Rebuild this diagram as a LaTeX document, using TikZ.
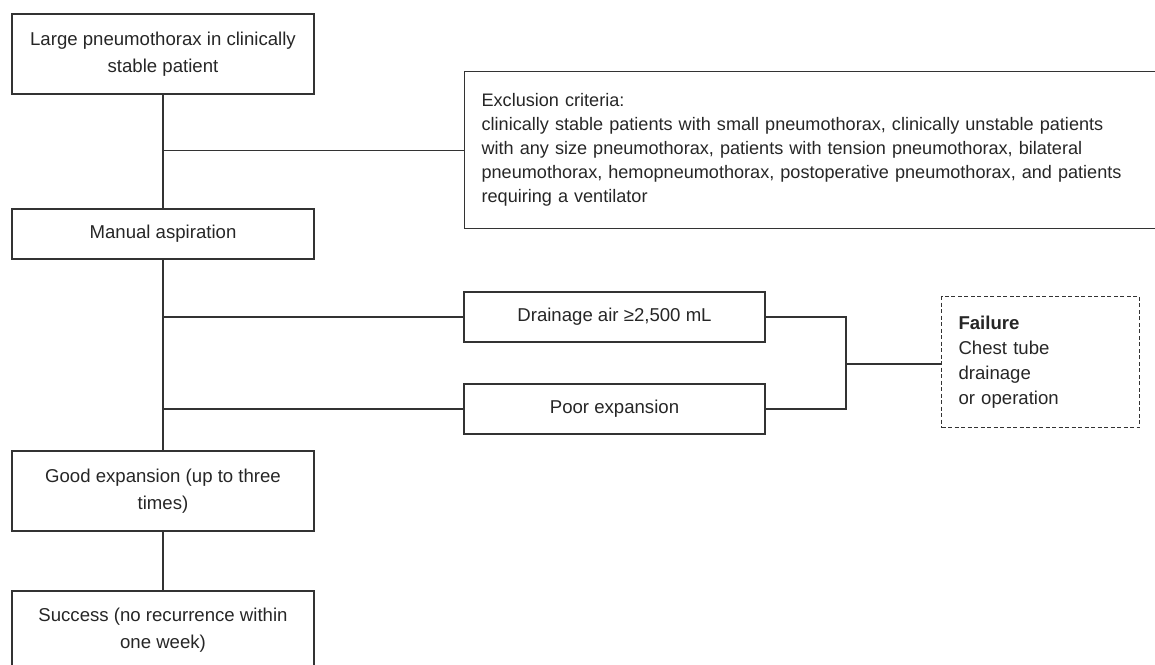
\documentclass[tikz,border=0pt]{standalone}
\usepackage{fontspec}
\setmainfont{Liberation Sans}
\begin{document}
\begin{tikzpicture}[x=1pt,y=-1pt,
  line/.style={draw=black!80,line width=1.2pt},
  box/.style={line,rectangle,inner sep=0pt,text=black!85,
    font=\fontsize{18.6}{26.5}\selectfont,align=center},
  dbox/.style={draw=black!80,line width=1pt,dash pattern=on 4pt off 2.5pt,
    rectangle,inner xsep=17pt,inner ysep=0pt,text=black!85,
    font=\fontsize{18.6}{25}\selectfont,align=left}]
\useasboundingbox (0,0) rectangle (1155,664);

\node[box,minimum width=302pt,minimum height=80pt] (b1) at (163,54)
  {Large pneumothorax in clinically\\stable patient};
\node[box,minimum width=302pt,minimum height=50pt] (b2) at (163,234)
  {Manual aspiration};
\node[box,minimum width=302pt,minimum height=80pt] (b3) at (163,491)
  {Good expansion (up to three\\times)};
\node[box,minimum width=302pt,minimum height=78pt] (b4) at (163,630)
  {Success (no recurrence within\\one week)};

\node[box,anchor=north west,minimum width=700pt,minimum height=157pt,
  text width=666pt,inner xsep=17pt,align=left,
  font=\fontsize{18.1}{24}\selectfont] (ex) at (464,71)
  {Exclusion criteria:\\
   clinically stable patients with small pneumothorax, clinically unstable patients\\
   with any size pneumothorax, patients with tension pneumothorax, bilateral\\
   pneumothorax, hemopneumothorax, postoperative pneumothorax, and patients\\
   requiring a ventilator};

\node[box,minimum width=301pt,minimum height=50pt] (dr) at (614.5,317)
  {Drainage air ≥2,500 mL};
\node[box,minimum width=301pt,minimum height=50pt] (po) at (614.5,409)
  {Poor expansion};

\node[dbox,anchor=north west,minimum width=198pt,minimum height=131pt,
  text width=164pt] (fa) at (941,296)
  {\textbf{Failure}\\Chest tube\\drainage\\or operation};

\coordinate (j) at (846,364);

\draw[line] (b1.south) -- (b2.north);
\draw[line] (b2.south) -- (b3.north);
\draw[line] (b3.south) -- (b4.north);
\draw[line] (b1.south |- ex.west) -- (ex.west);
\draw[line] (b2.south |- dr.west) -- (dr.west);
\draw[line] (b2.south |- po.west) -- (po.west);
\draw[line] (dr.east) -| (j) |- (po.east);
\draw[line] (j) -- (fa.west |- j);
\end{tikzpicture}
\end{document}
